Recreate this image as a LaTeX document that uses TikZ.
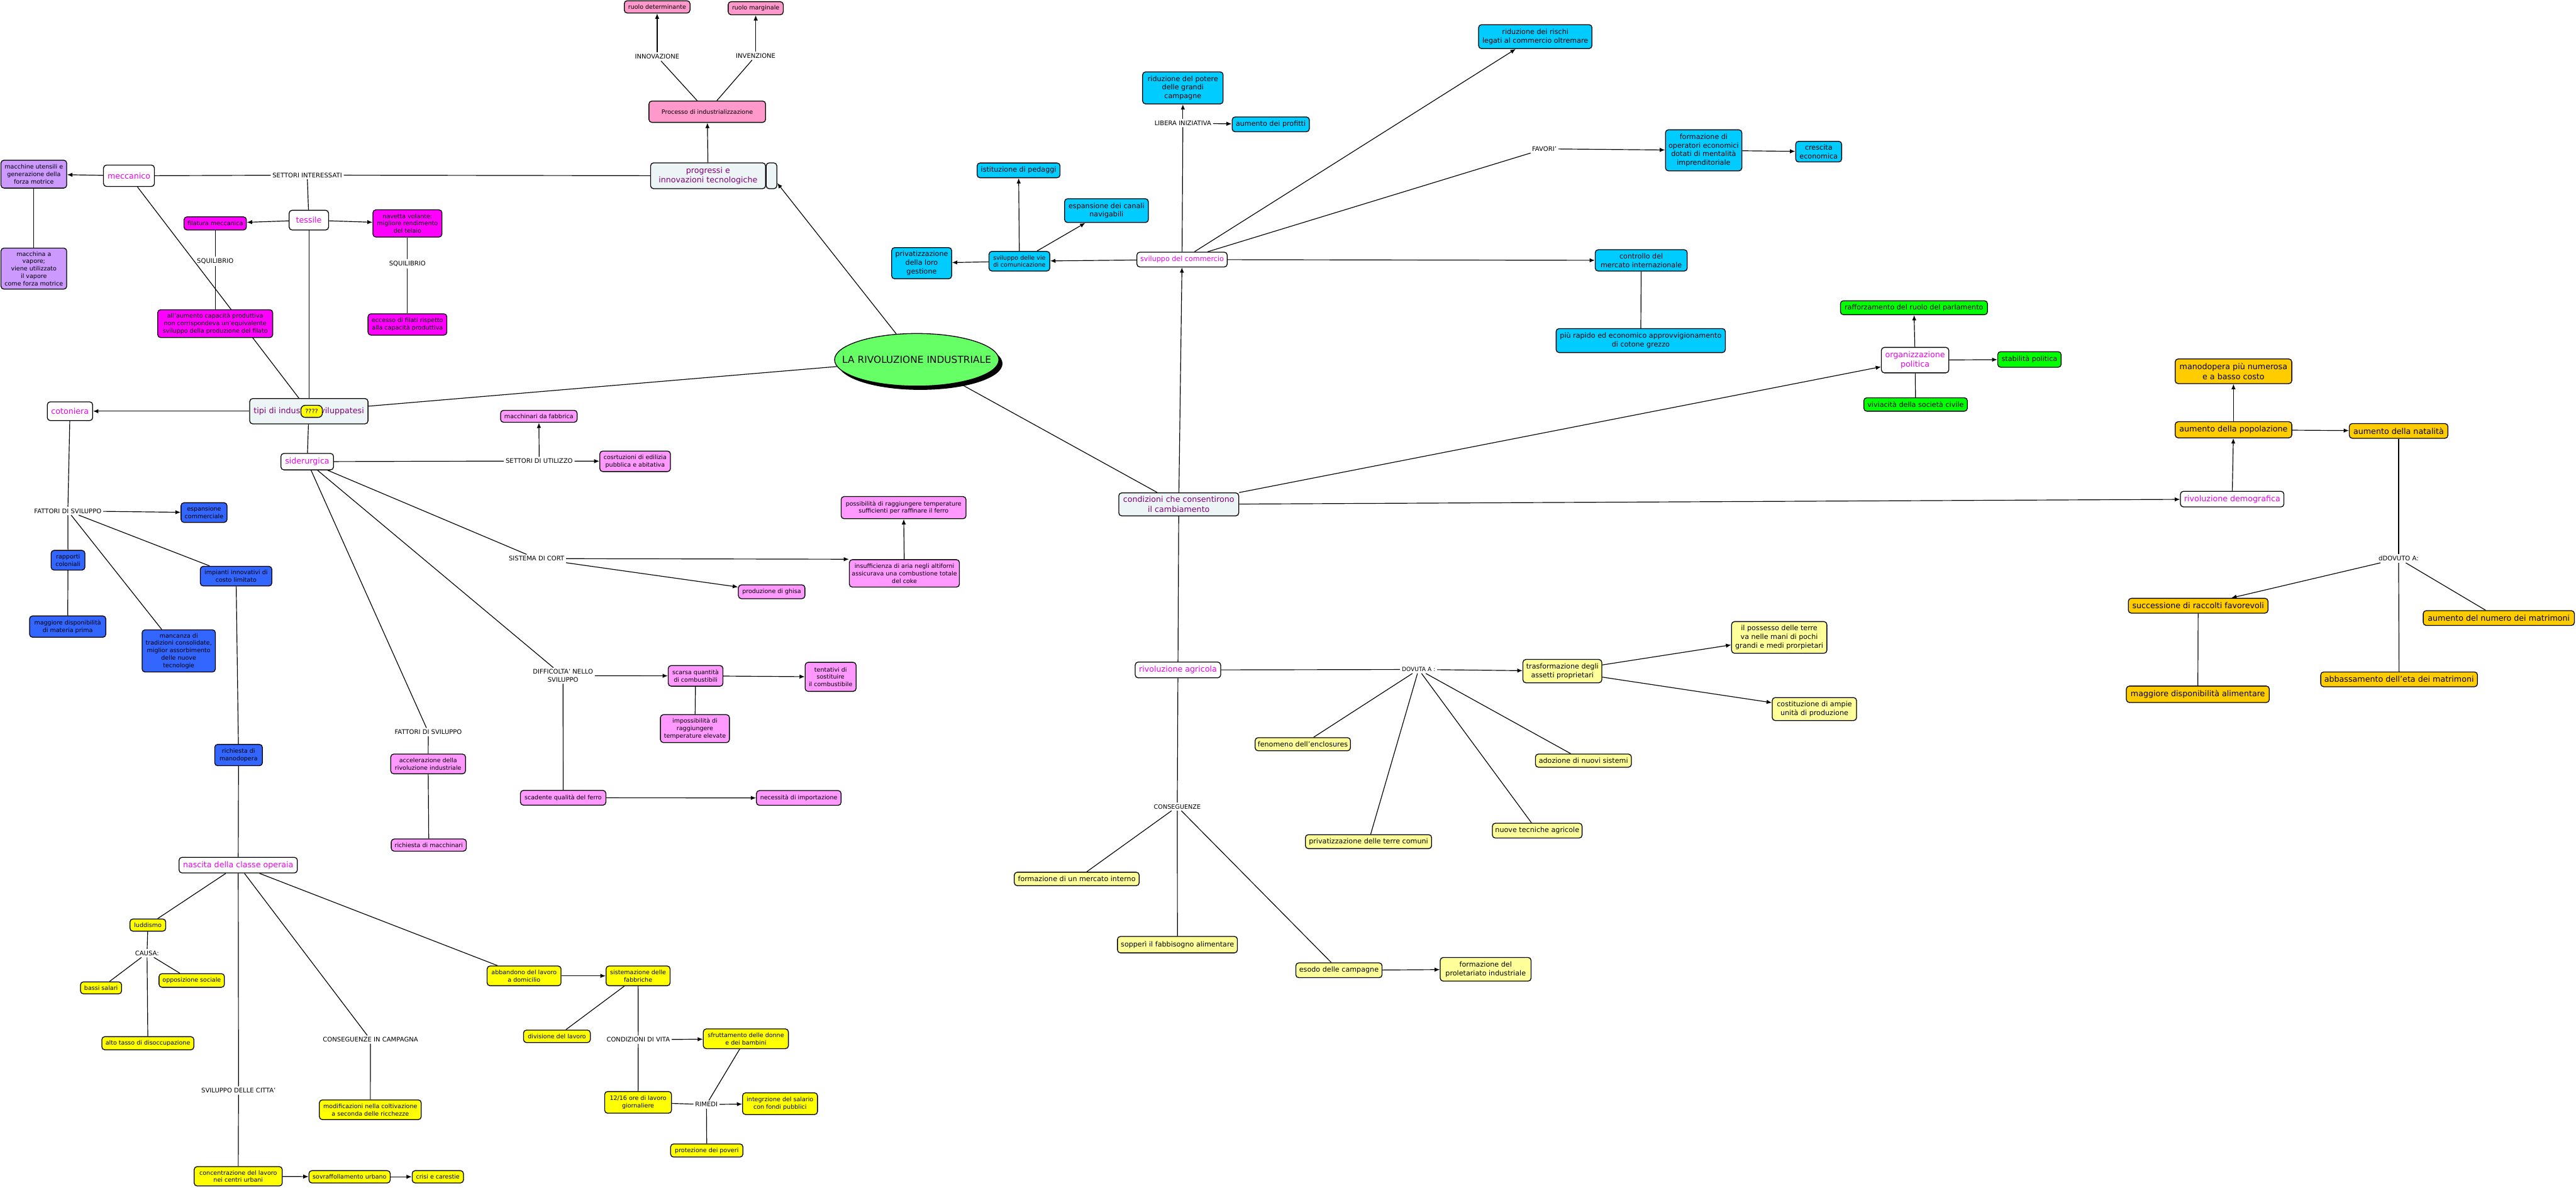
\documentclass[tikz,border=0pt]{standalone}
\usepackage{fontspec}
\setmainfont{DejaVu Sans}
\usetikzlibrary{arrows.meta,shapes.geometric}
\definecolor{cLav}{RGB}{204,153,255}
\definecolor{cMag}{RGB}{255,0,255}
\definecolor{cPkP}{RGB}{255,153,204}
\definecolor{cPkS}{RGB}{255,153,255}
\definecolor{cBlu}{RGB}{51,102,255}
\definecolor{cCya}{RGB}{0,204,255}
\definecolor{cGrn}{RGB}{0,255,0}
\definecolor{cOrg}{RGB}{255,204,0}
\definecolor{cYel}{RGB}{255,255,0}
\definecolor{cLye}{RGB}{255,255,153}
\definecolor{cGry}{RGB}{237,244,246}
\definecolor{cPur}{RGB}{128,0,128}
\definecolor{cMagT}{RGB}{240,0,240}
\definecolor{cEll}{RGB}{102,255,102}
\newcommand\szA{\fontsize{3.65}{4.5}\selectfont}
\newcommand\szB{\fontsize{4.27}{5.25}\selectfont}
\newcommand\szC{\fontsize{4.85}{5.9}\selectfont}
\newcommand\szL{\fontsize{3.85}{4.7}\selectfont}
\newcommand\szE{\fontsize{5.9}{7}\selectfont}
\pgfdeclarelayer{bg}
\pgfsetlayers{bg,main}
\tikzset{
 bx/.style={draw=black, line width=0.5pt, rounded corners=1.8pt, align=center, inner sep=0.6pt, text=black},
 wh/.style 2 args={minimum width=#1, minimum height=#2},
 lav/.style={bx, fill=cLav, font=\szA},
 mag/.style={bx, fill=cMag, font=\szA},
 pkp/.style={bx, fill=cPkP, font=\szA},
 pks/.style={bx, fill=cPkS, font=\szA},
 blu/.style={bx, fill=cBlu, font=\szA},
 cya/.style={bx, fill=cCya, font=\szB},
 grn/.style={bx, fill=cGrn, font=\szB},
 org/.style={bx, fill=cOrg, font=\szC},
 yel/.style={bx, fill=cYel, font=\szA},
 lye/.style={bx, fill=cLye, font=\szB},
 wht/.style={bx, fill=white, text=cMagT, font=\szC},
 gry/.style={bx, fill=cGry, text=cPur, font=\szC},
 lab/.style={font=\szL, inner sep=0.9pt, align=center, text=black},
 ln/.style={line width=0.45pt, draw=black},
 ar/.style={ln, -{Latex[length=3.2pt,width=2.6pt]}},
 ellbox/.style={ellipse, inner sep=0pt, minimum width=100, minimum height=32},
}
\begin{document}
\begin{tikzpicture}[x=1pt,y=-1pt]
\useasboundingbox (0,0) rectangle (1568,723);
% ---------- top left
\node[lav, wh={40}{17}] (maccut) at (20.6,106) {macchine utensili e\\generazione della\\forza motrice};
\node[lav, wh={40}{25}] (vapore) at (20.6,163.5) {macchina a\\vapore;\\viene utilizzato\\il vapore\\come forza motrice};
\node[wht, wh={31}{13}] (mecc) at (78.5,107) {meccanico};
\node[wht, wh={24}{12}] (tess) at (188,134) {tessile};
\node[mag, wh={38}{8}] (filat) at (131,136) {filatura meccanica};
\node[mag, wh={42}{16.6}] (navetta) at (248,136) {navetta volante:\\migliore rendimento\\del telaio};
\node[mag, wh={70}{17}] (allaum) at (131,197) {all'aumento capacità produttiva\\non corrispondeva un'equivalente\\sviluppo della produzione del filato};
\node[mag, wh={48}{13}] (eccesso) at (248,197.5) {eccesso di filati rispetto\\alla capacità produttiva};
\node[lab] (lSI) at (187,106.6) {SETTORI INTERESSATI};
\node[lab] (lSQa) at (131,159) {SQUILIBRIO};
\node[lab] (lSQb) at (248,160.5) {SQUILIBRIO};
% ---------- process
\node[pkp, wh={40}{7.5}] (rdet) at (400,4.2) {ruolo determinante};
\node[pkp, wh={33.5}{8}] (rmarg) at (460,5) {ruolo marginale};
\node[lab] (lINNOV) at (400,34.5) {INNOVAZIONE};
\node[lab] (lINVEN) at (460,34) {INVENZIONE};
\node[pkp, wh={71}{13}] (procind) at (430.5,68) {Processo di industrializzazione};
\node[gry, wh={70}{15.7}] (progr) at (431,107) {progressi e\\innovazioni tecnologiche};
\node[gry, wh={6.5}{15.7}] (prsb) at (469.6,107) {};
% ---------- centre
\node[ellbox, fill=black] (rivsh) at (560.2,221.3) {};
\node[ellbox, draw=black, line width=0.5pt, fill=cEll, font=\szE] (rivind) at (558,219) {\makebox[0pt]{LA RIVOLUZIONE INDUSTRIALE}};
% ---------- commerce
\node[cya, wh={49}{19.5}] (ridpot) at (720,53.5) {riduzione del potere\\delle grandi\\campagne};
\node[lab] (lLIB) at (720,75) {LIBERA INIZIATIVA};
\node[cya, wh={47}{9}] (profitti) at (773.5,75.7) {aumento dei profitti};
\node[cya, wh={50.5}{9}] (pedaggi) at (620,103.7) {istituzione di pedaggi};
\node[cya, wh={51}{14.5}] (canali) at (673.5,128.2) {espansione dei canali\\navigabili};
\node[cya, wh={36.5}{19}] (privat) at (561,160.2) {privatizzazione\\della loro\\gestione};
\node[cya, wh={37}{12}, font=\szA] (vie) at (620.5,159) {sviluppo delle vie\\di comunicazione};
\node[wht, wh={55}{9}, font=\szB] (svcomm) at (719.5,158) {sviluppo del commercio};
\node[cya, wh={69}{14.6}] (rischi) at (934.5,22.3) {riduzione dei rischi\\legati al commercio oltremare};
\node[lab] (lFAV) at (940,90.6) {FAVORI'};
\node[cya, wh={46.5}{25}] (operatori) at (1037,91.5) {formazione di\\operatori economici\\dotati di mentalità\\imprenditoriale};
\node[cya, wh={28}{12.6}] (crescita) at (1107,92.3) {crescita\\economica};
\node[cya, wh={56}{13}] (controllo) at (999,158.5) {controllo del\\mercato internazionale};
\node[cya, wh={103}{14.6}] (rapido) at (998.7,207.3) {più rapido ed economico approvvigionamento\\di cotone grezzo};
% ---------- politics
\node[grn, wh={89.5}{8.5}] (parlam) at (1165,187.3) {rafforzamento del ruolo del parlamento};
\node[wht, wh={41}{15.5}] (orgpol) at (1165.7,219.2) {organizzazione\\politica};
\node[grn, wh={38.6}{9.5}] (stabil) at (1235.3,218.8) {stabilità politica};
\node[grn, wh={63}{8.2}] (vivi) at (1166,246.2) {viviacità della società civile};
% ---------- demography
\node[org, wh={71}{15}] (manod) at (1359.5,226) {manodopera più numerosa\\e a basso costo};
\node[org, wh={71}{9.8}] (popol) at (1359.5,261.6) {aumento della popolazione};
\node[org, wh={60}{9}] (natal) at (1460,262.3) {aumento della natalità};
\node[wht, wh={63}{9.5}] (demogr) at (1358.7,303.8) {rivoluzione demografica};
\node[lab] (lDOV) at (1460,340) {dDOVUTO A:};
\node[org, wh={85}{9}] (succ) at (1338,368.7) {successione di raccolti favorevoli};
\node[org, wh={92}{9}] (nummatr) at (1521,376.2) {aumento del numero dei matrimoni};
\node[org, wh={95.4}{9}] (abbass) at (1460.3,413.5) {abbassamento dell'eta dei matrimoni};
\node[org, wh={87}{10}] (alim) at (1337.8,422.6) {maggiore disponibilità alimentare};
% ---------- industries
\node[wht, wh={27.6}{11.4}] (cotoniera) at (42.6,250.3) {cotoniera};
\node[gry, wh={72}{15.4}] (tipi) at (188,250.3) {tipi di industrie sviluppatesi};
\node[bx, fill=cYel, font=\szA, wh={13}{7.3}, rounded corners=2.5pt] (qqq) at (189.7,250.4) {????};
\node[wht, wh={32}{10}] (sider) at (187,281) {siderurgica};
\node[lab] (lFS1) at (41.3,311) {FATTORI DI SVILUPPO};
\node[blu, wh={28}{12}] (espcomm) at (124.2,312) {espansione\\commerciale};
\node[blu, wh={20.6}{12}] (rapporti) at (41.4,341) {rapporti\\coloniali};
\node[blu, wh={43.5}{12}] (impianti) at (143.7,350.7) {impianti innovativi di\\costo limitato};
\node[blu, wh={46.4}{13}] (materia) at (41.2,381.4) {maggiore disponibilità\\di materia prima};
\node[blu, wh={44.6}{25.7}] (mancanza) at (108.8,396.2) {mancanza di\\tradizioni consolidate,\\miglior assorbimento\\delle nuove\\tecnologie};
\node[blu, wh={29}{13}] (richman) at (145.2,459.6) {richiesta di\\manodopera};
% ---------- siderurgica
\node[lab] (lSU) at (328.2,280.6) {SETTORI DI UTILIZZO};
\node[pks, wh={46.6}{7.3}] (macchinari) at (328,253.4) {macchinari da fabbrica};
\node[pks, wh={43}{12.5}] (edilizia) at (386.6,280.8) {cosrtuzioni di edilizia\\pubblica e abitativa};
\node[lab] (lCORT) at (326.6,340) {SISTEMA DI CORT};
\node[pks, wh={76}{13.5}] (possib) at (550,309) {possibilità di raggiungere temperature\\sufficienti per raffinare il ferro};
\node[pks, wh={67}{16.7}] (insuff) at (550.5,349) {insufficienza di aria negli altiforni\\assicurava una combustione totale\\del coke};
\node[pks, wh={40.5}{8.4}] (ghisa) at (469.7,360.2) {produzione di ghisa};
\node[lab] (lDIFF) at (342.7,411.3) {DIFFICOLTA' NELLO\\SVILUPPO};
\node[pks, wh={33.3}{12.6}] (scarsa) at (423.4,411.4) {scarsa quantità\\di combustibili};
\node[pks, wh={31}{17.7}] (tentativi) at (505.6,412) {tentativi di\\sostituire\\il combustibile};
\node[pks, wh={42}{17}] (impossib) at (423,443.5) {impossibilità di\\raggiungere\\temperature elevate};
\node[pks, wh={52}{9}] (scadente) at (342.8,485.6) {scadente qualità del ferro};
\node[pks, wh={51.5}{9}] (necess) at (486.2,485.7) {necessità di importazione};
\node[lab] (lFS2) at (260.7,445.6) {FATTORI DI SVILUPPO};
\node[pks, wh={45.5}{12}] (accel) at (260.6,465) {accelerazione della\\rivoluzione industriale};
\node[pks, wh={45.7}{7.4}] (richmacc) at (261,514.4) {richiesta di macchinari};
% ---------- working class
\node[wht, wh={72}{9.5}] (nascita) at (145,526.6) {nascita della classe operaia};
\node[yel, wh={21.8}{7.4}] (ludd) at (90,563.1) {luddismo};
\node[lab] (lCAUSA) at (89.5,580.2) {CAUSA:};
\node[yel, wh={25}{7.3}] (bassi) at (61.5,601.3) {bassi salari};
\node[yel, wh={39.8}{8.3}] (oppos) at (116.7,596.8) {opposizione sociale};
\node[yel, wh={56}{8}] (alto) at (90,635) {alto tasso di disoccupazione};
\node[lab] (lCITTA) at (145.2,663.8) {SVILUPPO DELLE CITTA'};
\node[lab] (lCAMP) at (225.5,632.8) {CONSEGUENZE IN CAMPAGNA};
\node[yel, wh={62}{12}] (modif) at (225.4,675.5) {modificazioni nella coltivazione\\a seconda delle ricchezze};
\node[yel, wh={53.6}{11.8}] (concent) at (145,716) {concentrazione del lavoro\\nei centri urbani};
\node[yel, wh={49.5}{7.5}] (sovraff) at (212.8,716.3) {sovraffollamento urbano};
\node[yel, wh={31.2}{7.5}] (crisi) at (266.5,716.3) {crisi e carestie};
\node[yel, wh={45}{12}] (abband) at (319,594) {abbandono del lavoro\\a domicilio};
\node[yel, wh={39}{12}] (sistem) at (388.4,594) {sistemazione delle\\fabbriche};
\node[yel, wh={40.7}{7.6}] (divis) at (339,630.8) {divisione del lavoro};
\node[lab] (lCV) at (388.5,632.9) {CONDIZIONI DI VITA};
\node[yel, wh={51.8}{12}] (sfrutt) at (454,632.3) {sfruttamento delle donne\\e dei bambini};
\node[yel, wh={40.7}{13.2}] (ore) at (388.4,671) {12/16 ore di lavoro\\giornaliere};
\node[lab] (lRIM) at (430,672.3) {RIMEDI};
\node[yel, wh={45.6}{13.2}] (integr) at (474.8,671.8) {integrzione del salario\\con fondi pubblici};
\node[yel, wh={44}{8}] (protez) at (430.2,700.3) {protezione dei poveri};
% ---------- agriculture
\node[gry, wh={73}{14}] (condiz) at (717.5,307) {condizioni che consentirono\\il cambiamento};
\node[wht, wh={52}{9.6}] (rivagr) at (717,407.8) {rivoluzione agricola};
\node[lab, font=\fontsize{3.5}{4.3}\selectfont] (lDOVA) at (863.5,407.5) {DOVUTA A :};
\node[lye, wh={48}{14.2}] (trasf) at (951,408.5) {trasformazione degli\\assetti proprietari};
\node[lye, wh={58}{19.3}] (possesso) at (1083,388) {il possesso delle terre\\va nelle mani di pochi\\grandi e medi prorpietari};
\node[lye, wh={51.3}{14}] (costit) at (1104.4,431.6) {costituzione di ampie\\unità di produzione};
\node[lye, wh={58}{8}] (fenom) at (793,453) {fenomeno dell'enclosures};
\node[lye, wh={58.4}{8}] (adoz) at (963.8,463) {adozione di nuovi sistemi};
\node[lye, wh={76.8}{8.5}] (privterre) at (833,512.3) {privatizzazione delle terre comuni};
\node[lye, wh={54.6}{9}] (nuove) at (935.7,505.6) {nuove tecniche agricole};
\node[lab, font=\fontsize{3.7}{4.5}\selectfont] (lCONS) at (716.6,491) {CONSEGUENZE};
\node[lye, wh={76}{8.2}] (mercato) at (655.4,535) {formazione di un mercato interno};
\node[lye, wh={73}{10}] (sopperi) at (716.7,575) {sopperì il fabbisogno alimentare};
\node[lye, wh={52.5}{9}] (esodo) at (815,590.6) {esodo delle campagne};
\node[lye, wh={55.3}{14.4}] (prolet) at (904.3,590) {formazione del\\proletariato industriale};
% ================= connectors
\begin{pgfonlayer}{bg}
\fill[white] (0,0) rectangle (1568,723);
% top left
\draw[ln] (progr) -- (lSI);
\draw[ln] (lSI) -- (mecc);
\draw[ln] (lSI) -- (tess);
\draw[ar] (mecc) -- (maccut);
\draw[ln] (maccut) -- (vapore);
\draw[ar] (tess) -- (filat);
\draw[ar] (tess) -- (navetta);
\draw[ln] (filat) -- (lSQa) -- (allaum);
\draw[ln] (navetta) -- (lSQb) -- (eccesso);
\draw[ln] (mecc) -- (tipi);
\draw[ln] (tess) -- (tipi);
% process
\draw[ar] (progr) -- (procind);
\draw[ln] (procind) -- (lINNOV);
\draw[ar] (lINNOV) -- (rdet);
\draw[ln] (procind) -- (lINVEN);
\draw[ar] (lINVEN) -- (rmarg);
% centre
\draw[ar] (rivind) -- (prsb);
\draw[ln] (rivind) -- (tipi);
\draw[ln] (rivind) -- (condiz);
% industries
\draw[ar] (tipi) -- (cotoniera);
\draw[ln] (tipi) -- (sider);
\draw[ln] (cotoniera) -- (lFS1);
\draw[ar] (lFS1) -- (espcomm);
\draw[ln] (lFS1) -- (rapporti);
\draw[ln] (lFS1) -- (mancanza);
\draw[ln] (lFS1) -- (impianti);
\draw[ln] (rapporti) -- (materia);
\draw[ln] (impianti) -- (richman);
\draw[ln] (richman) -- (nascita);
% siderurgica
\draw[ln] (sider) -- (lSU);
\draw[ar] (lSU) -- (macchinari);
\draw[ar] (lSU) -- (edilizia);
\draw[ln] (sider) -- (lCORT);
\draw[ar] (lCORT) -- (insuff.north west);
\draw[ar] (lCORT) -- (ghisa);
\draw[ar] (insuff) -- (possib);
\draw[ln] (sider) -- (lDIFF);
\draw[ar] (lDIFF) -- (scarsa);
\draw[ln] (lDIFF) -- (scadente);
\draw[ar] (scarsa) -- (tentativi);
\draw[ln] (scarsa) -- (impossib);
\draw[ar] (scadente) -- (necess);
\draw[ln] (sider) -- (lFS2) -- (accel) -- (richmacc);
% working class
\draw[ln] (nascita) -- (ludd);
\draw[ln] (ludd) -- (lCAUSA);
\draw[ln] (lCAUSA) -- (bassi);
\draw[ln] (lCAUSA) -- (oppos);
\draw[ln] (lCAUSA) -- (alto);
\draw[ln] (nascita) -- (lCITTA) -- (concent);
\draw[ar] (concent) -- (sovraff);
\draw[ar] (sovraff) -- (crisi);
\draw[ln] (nascita) -- (lCAMP) -- (modif);
\draw[ln] (nascita) -- (abband);
\draw[ar] (abband) -- (sistem);
\draw[ln] (sistem) -- (divis);
\draw[ln] (sistem) -- (lCV);
\draw[ar] (lCV) -- (sfrutt);
\draw[ln] (lCV) -- (ore);
\draw[ln] (ore) -- (lRIM);
\draw[ar] (lRIM) -- (integr);
\draw[ln] (sfrutt) -- (lRIM);
\draw[ln] (lRIM) -- (protez);
% conditions
\draw[ar] (condiz) -- (svcomm);
\draw[ar] (condiz) -- (orgpol);
\draw[ar] (condiz) -- (demogr);
\draw[ln] (condiz) -- (rivagr);
% commerce
\draw[ar] (svcomm) -- (vie);
\draw[ar] (vie) -- (pedaggi);
\draw[ar] (vie) -- (canali);
\draw[ar] (vie) -- (privat);
\draw[ln] (svcomm) -- (lLIB);
\draw[ar] (lLIB) -- (ridpot);
\draw[ar] (lLIB) -- (profitti);
\draw[ar] (svcomm) -- (rischi);
\draw[ln] (svcomm) -- (lFAV);
\draw[ar] (lFAV) -- (operatori);
\draw[ar] (operatori) -- (crescita);
\draw[ar] (svcomm) -- (controllo);
\draw[ln] (controllo) -- (rapido);
% politics
\draw[ar] (orgpol) -- (parlam);
\draw[ar] (orgpol) -- (stabil);
\draw[ln] (orgpol) -- (vivi);
% demography
\draw[ar] (demogr) -- (popol);
\draw[ar] (popol) -- (manod);
\draw[ar] (popol) -- (natal);
\draw[ln] (natal) -- (lDOV);
\draw[ar] (lDOV) -- (succ);
\draw[ln] (lDOV) -- (abbass);
\draw[ln] (lDOV) -- (nummatr);
\draw[ln] (succ) -- (alim);
% agriculture
\draw[ln] (rivagr) -- (lDOVA);
\draw[ar] (lDOVA) -- (trasf);
\draw[ln] (lDOVA) -- (fenom);
\draw[ln] (lDOVA) -- (privterre);
\draw[ln] (lDOVA) -- (nuove);
\draw[ln] (lDOVA) -- (adoz);
\draw[ar] (trasf) -- (possesso);
\draw[ar] (trasf) -- (costit);
\draw[ln] (rivagr) -- (lCONS);
\draw[ln] (lCONS) -- (mercato);
\draw[ln] (lCONS) -- (sopperi);
\draw[ln] (lCONS) -- (esodo);
\draw[ar] (esodo) -- (prolet);
\end{pgfonlayer}
\end{tikzpicture}
\end{document}
